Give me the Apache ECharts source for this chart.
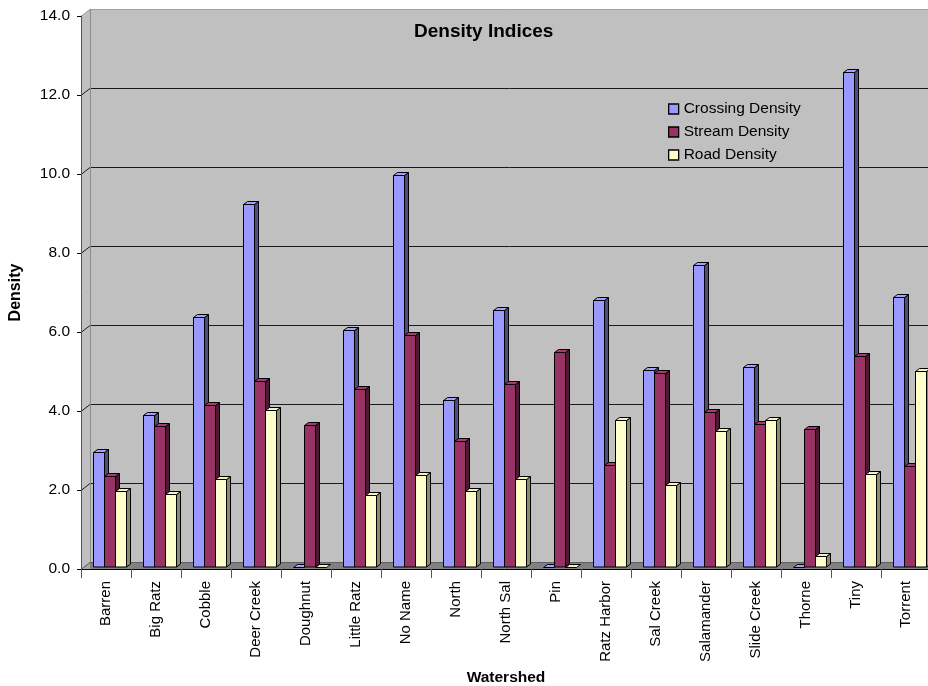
<!DOCTYPE html>
<html>
<head>
<meta charset="utf-8">
<title>Density Indices</title>
<script src="https://cdn.jsdelivr.net/npm/echarts@6/dist/echarts.min.js"></script>
<style>
  html, body { margin: 0; padding: 0; background: #ffffff; }
  #chart { width: 928px; height: 686px; }
</style>
</head>
<body>
<div id="chart"></div>
<script>
// Watershed names along the category axis
const categories = ['Barren', 'Big Ratz', 'Cobble', 'Deer Creek', 'Doughnut', 'Little Ratz',
  'No Name', 'North', 'North Sal', 'Pin', 'Ratz Harbor', 'Sal Creek', 'Salamander',
  'Slide Creek', 'Thorne', 'Tiny', 'Torrent'];

// Density values per watershed
const crossingDensity = [2.90, 3.84, 6.33, 9.20, 0, 5.99, 9.92, 4.22, 6.50, 0, 6.77, 4.98, 7.64, 5.06, 0, 12.53, 6.84];
const streamDensity   = [2.30, 3.57, 4.11, 4.70, 3.59, 4.51, 5.88, 3.18, 4.63, 5.44, 2.57, 4.90, 3.92, 3.63, 3.49, 5.33, 2.55];
const roadDensity     = [1.92, 1.86, 2.24, 3.97, 0, 1.82, 2.32, 1.92, 2.22, 0, 3.73, 2.07, 3.44, 3.71, 0.28, 2.36, 4.96];

// Value axis ticks (also used for the gridlines on the back wall)
const yTicks = [0, 2, 4, 6, 8, 10, 12, 14];

const seriesDefs = [
  { name: 'Crossing Density', values: crossingDensity, front: '#9999FF', side: '#4D4D80', top: '#A3A3FF' },
  { name: 'Stream Density',   values: streamDensity,   front: '#993366', side: '#4D1A33', top: '#A33D70' },
  { name: 'Road Density',     values: roadDensity,     front: '#FFFFCC', side: '#8C8C6E', top: '#F2F2C2' }
];

const FONT = '"Liberation Sans", Arial, sans-serif';
const WALL_DX = 9, WALL_DY = -7;   // depth of the 3D box
const BAR_DX = 4, BAR_DY = -3;     // depth of each bar

// Back wall, side wall, floor and gridlines of the 3D box
function renderWalls(params, api) {
  const cs = params.coordSys;
  const left = cs.x, right = cs.x + cs.width;
  const y0 = api.coord([0, yTicks[0]])[1];
  const yMax = api.coord([0, yTicks[yTicks.length - 1]])[1];
  const bx = left + WALL_DX;
  const children = [];
  // side wall
  children.push({ type: 'polygon', shape: { points: [[left, yMax], [bx, yMax + WALL_DY], [bx, y0 + WALL_DY], [left, y0]] },
    style: { fill: '#C0C0C0' } });
  // back wall
  children.push({ type: 'rect', shape: { x: bx, y: yMax + WALL_DY, width: right - bx + 20, height: y0 - yMax },
    style: { fill: '#C0C0C0' } });
  // floor
  children.push({ type: 'polygon', shape: { points: [[left, y0], [bx, y0 + WALL_DY], [right + 20, y0 + WALL_DY], [right + 20, y0]] },
    style: { fill: '#808080' } });
  children.push({ type: 'polygon', shape: { points: [[left, y0], [bx, y0 + WALL_DY], [bx, y0]] },
    style: { fill: '#A8A8A8' } });
  // gridlines
  yTicks.forEach(function (v, k) {
    const y = Math.round(api.coord([0, v])[1]) + 0.5;
    const isTop = k === yTicks.length - 1;
    const col = isTop ? '#A0A0A0' : (v === 0 ? '#606060' : '#1A1A1A');
    children.push({ type: 'polyline', shape: { points: [[left, y], [bx, y + WALL_DY], [right + 20, y + WALL_DY]] },
      style: { stroke: col, lineWidth: 1, fill: null } });
  });
  // back wall left edge
  children.push({ type: 'line', shape: { x1: bx + 0.5, y1: yMax + WALL_DY, x2: bx + 0.5, y2: y0 + WALL_DY },
    style: { stroke: '#8C8C8C', lineWidth: 1 } });
  return { type: 'group', children: children };
}

// 3D column: front face, right side and top
function makeBarRenderer(sIdx, def) {
  return function (params, api) {
    const i = api.value(0), v = api.value(1);
    const base = api.coord([i, 0]);
    const topPt = api.coord([i, v]);
    const band = api.size([1, 0])[0];
    const w = band * 0.22;
    const x0 = Math.round(base[0] + band * 0.064 + (sIdx - 1.5) * w) + 0.5;
    const x1 = x0 + Math.round(w);
    const yb = base[1] - 2;
    const yt = Math.round(topPt[1] - 2) + 0.5;
    const stroke = { stroke: '#000', lineWidth: 1, lineJoin: 'miter' };
    const children = [];
    if (yb - yt > 0.6) {
      children.push({ type: 'polygon', shape: { points: [[x1, yt], [x1 + BAR_DX, yt + BAR_DY], [x1 + BAR_DX, yb + BAR_DY], [x1, yb]] },
        style: Object.assign({ fill: def.side }, stroke) });
      children.push({ type: 'rect', shape: { x: x0, y: yt, width: x1 - x0, height: yb - yt },
        style: Object.assign({ fill: def.front }, stroke) });
    }
    children.push({ type: 'polygon', shape: { points: [[x0, yt], [x0 + BAR_DX, yt + BAR_DY], [x1 + BAR_DX, yt + BAR_DY], [x1, yt]] },
      style: Object.assign({ fill: def.top }, stroke) });
    return { type: 'group', children: children };
  };
}

const chart = echarts.init(document.getElementById('chart'), null, { renderer: 'canvas' });

const series = [{
  type: 'custom',
  name: '__walls',
  silent: true,
  z: 1,
  data: [[0, 0]],
  renderItem: renderWalls
}];
seriesDefs.forEach(function (def, s) {
  series.push({
    type: 'custom',
    name: def.name,
    z: 2,
    itemStyle: { color: def.front },
    data: def.values.map(function (v, i) { return [i, v]; }),
    encode: { x: 0, y: 1 },
    renderItem: makeBarRenderer(s, def)
  });
});

chart.setOption({
  animation: false,
  backgroundColor: '#ffffff',
  textStyle: { fontFamily: FONT },
  title: {
    text: 'Density Indices',
    left: 409,
    top: 17,
    textStyle: { fontFamily: FONT, fontSize: 19, fontWeight: 'bold', color: '#000' }
  },
  legend: {
    orient: 'vertical',
    left: 663,
    top: 96,
    itemWidth: 10,
    itemHeight: 10,
    itemGap: 7,
    icon: 'rect',
    itemStyle: { borderColor: '#000', borderWidth: 1.3 },
    textStyle: { fontFamily: FONT, fontSize: 15.5, color: '#000', lineHeight: 16 },
    data: seriesDefs.map(function (d) { return d.name; })
  },
  grid: { left: 81, right: -3, top: 16, bottom: 117, containLabel: false, outerBoundsMode: 'none' },
  xAxis: {
    type: 'category',
    data: categories,
    boundaryGap: true,
    z: 5,
    name: 'Watershed',
    nameLocation: 'middle',
    nameGap: 88,
    nameTextStyle: { fontFamily: FONT, fontSize: 15.5, fontWeight: 'bold', color: '#000' },
    axisLine: { lineStyle: { color: '#000', width: 1 } },
    axisTick: { show: true, interval: 0, length: 9, lineStyle: { color: '#555' } },
    axisLabel: { interval: 0, rotate: 90, margin: 12, fontFamily: FONT, fontSize: 15, color: '#000' },
    splitLine: { show: false }
  },
  yAxis: {
    type: 'value',
    min: 0,
    max: 14,
    interval: 2,
    z: 5,
    name: 'Density',
    nameLocation: 'middle',
    nameRotate: 90,
    nameGap: 57,
    nameTextStyle: { fontFamily: FONT, fontSize: 16, fontWeight: 'bold', color: '#000' },
    axisLine: { show: true, lineStyle: { color: '#555', width: 1 } },
    axisTick: { show: true, length: 4, lineStyle: { color: '#000' } },
    axisLabel: { margin: 11, fontFamily: FONT, fontSize: 15.5, color: '#000',
      formatter: function (v) { return v.toFixed(1); } },
    splitLine: { show: false }
  },
  series: series
});
</script>
</body>
</html>
